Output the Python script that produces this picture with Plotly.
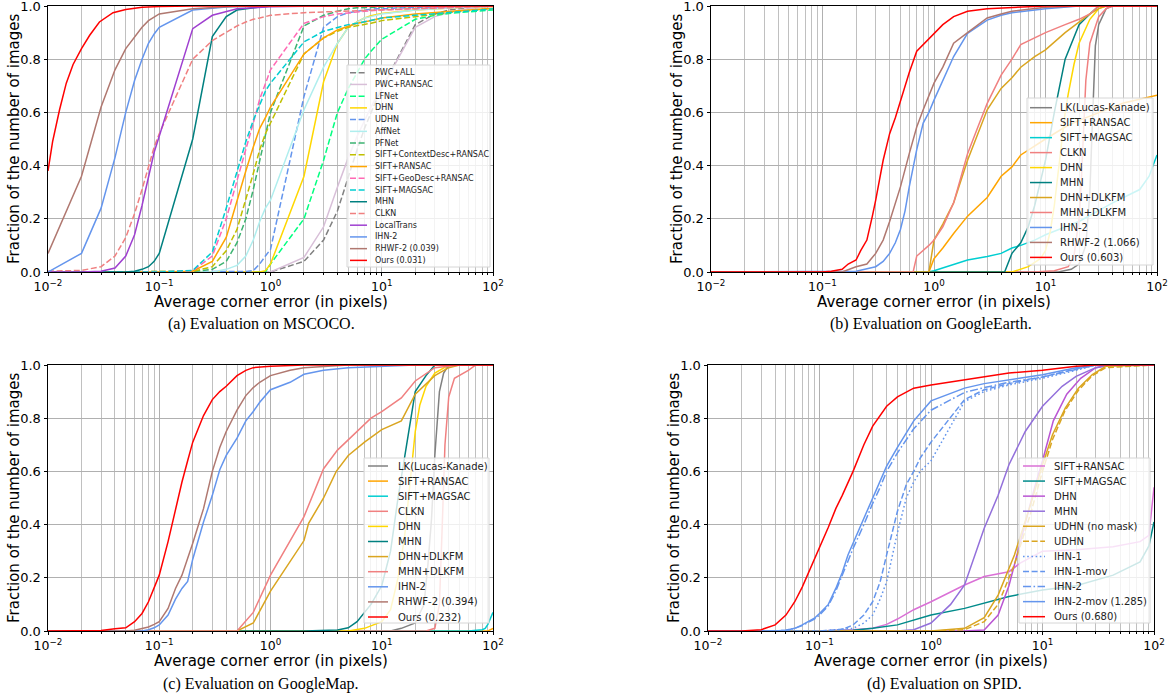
import plotly.graph_objects as go

# ---------------- DATA ----------------
# Panel (a) MSCOCO: common threshold grid
A_X = [0.01, 0.02, 0.03, 0.04, 0.05, 0.06, 0.07, 0.08, 0.09,
       0.1, 0.2, 0.3, 0.4, 0.5, 0.6, 0.7, 0.8, 0.9,
       1, 2, 3, 4, 5, 6, 7, 8, 9,
       10, 20, 30, 40, 50, 60, 70, 80, 90,
       100]
a_pwc_all = [0, 0, 0, 0, 0, 0, 0, 0, 0,
             0, 0, 0, 0, 0, 0, 0, 0, 0,
             0, 0.04, 0.12, 0.23, 0.36, 0.46, 0.54, 0.6, 0.65,
             0.69, 0.93, 0.97, 0.985, 0.99, 0.993, 0.996, 0.998, 0.999,
             1]
a_pwc_ransac = [0, 0, 0, 0, 0, 0, 0, 0, 0,
                0, 0, 0, 0, 0, 0, 0, 0, 0,
                0, 0.055, 0.17, 0.32, 0.43, 0.51, 0.57, 0.62, 0.66,
                0.69, 0.92, 0.96, 0.975, 0.985, 0.99, 0.993, 0.996, 0.998,
                1]
a_lfnet = [0, 0, 0, 0, 0, 0, 0, 0, 0,
           0, 0, 0, 0, 0, 0, 0, 0, 0,
           0.03, 0.2, 0.42, 0.6, 0.69, 0.75, 0.8, 0.83, 0.855,
           0.875, 0.95, 0.965, 0.972, 0.976, 0.978, 0.98, 0.982, 0.984,
           0.985]
a_dhn = [0, 0, 0, 0, 0, 0, 0, 0, 0,
         0, 0, 0, 0, 0, 0, 0, 0, 0.005,
         0.03, 0.36, 0.715, 0.86, 0.92, 0.94, 0.955, 0.963, 0.968,
         0.972, 0.985, 0.99, 0.993, 0.995, 0.996, 0.997, 0.998, 0.999,
         1]
a_udhn = [0, 0, 0, 0, 0, 0, 0, 0, 0,
          0, 0, 0, 0, 0, 0.002, 0.005, 0.03, 0.06,
          0.085, 0.66, 0.92, 0.96, 0.975, 0.98, 0.985, 0.988, 0.99,
          0.99, 0.995, 0.997, 0.998, 0.999, 1, 1, 1, 1,
          1]
a_affnet = [0, 0, 0, 0, 0, 0, 0, 0, 0,
            0, 0, 0, 0.01, 0.025, 0.06, 0.12, 0.19, 0.24,
            0.27, 0.61, 0.77, 0.86, 0.92, 0.94, 0.955, 0.96, 0.965,
            0.97, 0.985, 0.99, 0.993, 0.995, 0.996, 0.997, 0.998, 0.999,
            1]
a_pfnet = [0, 0, 0, 0, 0, 0, 0, 0, 0,
           0, 0.002, 0.01, 0.04, 0.11, 0.2, 0.31, 0.42, 0.52,
           0.6, 0.925, 0.965, 0.98, 0.99, 0.993, 0.994, 0.995, 0.996,
           0.996, 0.998, 0.999, 1, 1, 1, 1, 1, 1,
           1]
a_context = [0, 0, 0, 0, 0, 0, 0, 0, 0,
             0, 0.002, 0.02, 0.08, 0.16, 0.27, 0.37, 0.46, 0.52,
             0.56, 0.82, 0.88, 0.905, 0.92, 0.925, 0.93, 0.935, 0.94,
             0.945, 0.96, 0.97, 0.975, 0.98, 0.983, 0.985, 0.987, 0.989,
             0.99]
a_sift_ransac = [0, 0, 0, 0, 0, 0, 0, 0, 0,
                 0, 0.003, 0.04, 0.13, 0.27, 0.38, 0.47, 0.54, 0.58,
                 0.62, 0.82, 0.88, 0.91, 0.925, 0.935, 0.94, 0.945, 0.95,
                 0.955, 0.97, 0.975, 0.98, 0.983, 0.985, 0.987, 0.989, 0.99,
                 0.992]
a_geodesc = [0, 0, 0, 0, 0, 0, 0, 0, 0,
             0, 0.005, 0.06, 0.2, 0.34, 0.46, 0.56, 0.65, 0.71,
             0.76, 0.935, 0.96, 0.97, 0.975, 0.978, 0.98, 0.982, 0.984,
             0.985, 0.99, 0.993, 0.995, 0.996, 0.997, 0.998, 0.999, 0.999,
             1]
a_magsac = [0, 0, 0, 0, 0, 0, 0, 0, 0,
            0, 0.006, 0.075, 0.24, 0.38, 0.49, 0.57, 0.63, 0.68,
            0.71, 0.865, 0.905, 0.92, 0.93, 0.935, 0.94, 0.945, 0.95,
            0.955, 0.965, 0.97, 0.975, 0.978, 0.98, 0.982, 0.985, 0.987,
            0.99]
a_mhn = [0, 0, 0, 0, 0, 0.003, 0.01, 0.02, 0.04,
         0.07, 0.5, 0.885, 0.96, 0.985, 0.99, 0.994, 0.996, 0.998,
         1, 1, 1, 1, 1, 1, 1, 1, 1,
         1, 1, 1, 1, 1, 1, 1, 1, 1,
         1]
a_clkn = [0.003, 0.006, 0.02, 0.06, 0.13, 0.22, 0.31, 0.4, 0.47,
          0.52, 0.8, 0.87, 0.9, 0.925, 0.94, 0.95, 0.955, 0.96,
          0.965, 0.975, 0.978, 0.98, 0.982, 0.983, 0.984, 0.985, 0.985,
          0.986, 0.99, 0.992, 0.994, 0.995, 0.996, 0.997, 0.998, 0.999,
          1]
a_localtrans = [0, 0, 0.003, 0.015, 0.06, 0.14, 0.25, 0.36, 0.45,
                0.51, 0.915, 0.965, 0.98, 0.99, 0.992, 0.994, 0.995, 0.996,
                0.997, 0.999, 0.999, 1, 1, 1, 1, 1, 1,
                1, 1, 1, 1, 1, 1, 1, 1, 1,
                1]
a_ihn2 = [0, 0.07, 0.24, 0.43, 0.6, 0.72, 0.8, 0.86, 0.895,
          0.92, 0.985, 0.993, 0.996, 0.998, 0.999, 1, 1, 1,
          1, 1, 1, 1, 1, 1, 1, 1, 1,
          1, 1, 1, 1, 1, 1, 1, 1, 1,
          1]
a_rhwf2 = [0.07, 0.36, 0.62, 0.76, 0.84, 0.885, 0.92, 0.945, 0.96,
           0.97, 0.99, 0.995, 0.997, 0.998, 0.999, 1, 1, 1,
           1, 1, 1, 1, 1, 1, 1, 1, 1,
           1, 1, 1, 1, 1, 1, 1, 1, 1,
           1]
a_ours_x = [0.01, 0.011, 0.0127, 0.0146, 0.0168, 0.02, 0.0237, 0.029, 0.0384, 0.05, 0.07, 0.1, 0.2, 1, 100]
a_ours_y = [0.38, 0.49, 0.61, 0.71, 0.78, 0.84, 0.89, 0.94, 0.975, 0.987, 0.995, 0.998, 1, 1, 1]

# Panel (b) GoogleEarth
b_lk_x = [0.01, 13, 17, 20, 23, 25, 26, 27, 28, 30, 35, 40, 100]
b_lk_y = [0, 0, 0.01, 0.03, 0.1, 0.3, 0.5, 0.7, 0.85, 0.93, 0.99, 1, 1]
b_sift_ransac_x = [0.01, 0.9, 1.0, 1.2, 1.5, 2, 3, 4, 5, 6, 10, 15, 20, 50, 100]
b_sift_ransac_y = [0, 0, 0.05, 0.09, 0.145, 0.21, 0.28, 0.36, 0.395, 0.44, 0.5, 0.545, 0.57, 0.635, 0.665]
b_magsac_x = [0.01, 0.9, 1.0, 2, 3, 4, 5, 6, 8, 10, 20, 40, 70, 85, 100]
b_magsac_y = [0, 0, 0.005, 0.045, 0.058, 0.07, 0.09, 0.1, 0.12, 0.14, 0.19, 0.26, 0.31, 0.36, 0.44]
b_clkn_x = [0.01, 8, 12, 16, 18, 20, 21, 22, 23, 25, 30, 35, 40, 100]
b_clkn_y = [0, 0, 0.005, 0.02, 0.06, 0.2, 0.35, 0.55, 0.72, 0.86, 0.96, 0.99, 1, 1]
b_dhn_x = [0.01, 5, 7, 9, 10, 11, 12, 13, 14, 15, 16, 18, 20, 25, 30, 35, 100]
b_dhn_y = [0, 0, 0.02, 0.05, 0.08, 0.15, 0.25, 0.38, 0.5, 0.6, 0.67, 0.78, 0.86, 0.95, 0.99, 1, 1]
b_mhn_x = [0.01, 4.3, 5, 6, 7, 8, 10, 12, 15, 20, 25, 30, 100]
b_mhn_y = [0, 0, 0.07, 0.11, 0.17, 0.25, 0.42, 0.6, 0.8, 0.93, 0.97, 1, 1]
b_dhn_dlkfm_x = [0.01, 0.9, 1.0, 1.2, 1.5, 2, 3, 4, 5, 6, 8, 10, 15, 20, 25, 30, 35, 100]
b_dhn_dlkfm_y = [0, 0, 0.12, 0.18, 0.26, 0.42, 0.61, 0.69, 0.73, 0.77, 0.81, 0.835, 0.9, 0.94, 0.97, 0.99, 1, 1]
b_mhn_dlkfm_x = [0.01, 0.65, 0.7, 0.8, 0.9, 1.0, 1.2, 1.5, 2, 2.5, 3, 4, 5, 6, 8, 10, 15, 20, 25, 30, 100]
b_mhn_dlkfm_y = [0, 0, 0.06, 0.08, 0.1, 0.12, 0.17, 0.26, 0.445, 0.55, 0.634, 0.74, 0.8, 0.855, 0.88, 0.9, 0.93, 0.95, 0.97, 1, 1]
b_ihn2_x = [0.01, 0.2, 0.3, 0.35, 0.4, 0.45, 0.5, 0.55, 0.6, 0.7, 0.8, 0.9, 1.0, 1.2, 1.5, 2, 3, 4, 5, 10, 20, 100]
b_ihn2_y = [0, 0.003, 0.02, 0.04, 0.07, 0.11, 0.16, 0.23, 0.32, 0.46, 0.56, 0.6, 0.646, 0.72, 0.81, 0.897, 0.947, 0.965, 0.975, 0.99, 1, 1]
b_rhwf2_x = [0.01, 0.15, 0.2, 0.25, 0.3, 0.35, 0.4, 0.45, 0.5, 0.6, 0.7, 0.8, 1.0, 1.2, 1.5, 2, 3, 4, 5, 10, 20, 100]
b_rhwf2_y = [0, 0, 0.02, 0.03, 0.07, 0.12, 0.19, 0.26, 0.32, 0.445, 0.545, 0.61, 0.71, 0.77, 0.86, 0.9, 0.955, 0.97, 0.98, 0.995, 1, 1]
b_ours_x = [0.01, 0.1, 0.12, 0.15, 0.17, 0.2, 0.22, 0.25, 0.28, 0.3, 0.35, 0.4, 0.45, 0.5, 0.6, 0.7, 0.8, 1.0, 1.2, 1.5, 2, 3, 5, 10, 100]
b_ours_y = [0, 0, 0.003, 0.01, 0.03, 0.045, 0.08, 0.12, 0.21, 0.27, 0.42, 0.52, 0.58, 0.646, 0.75, 0.83, 0.855, 0.897, 0.93, 0.96, 0.98, 0.99, 0.995, 1, 1]

# Panel (c) GoogleMap
c_lk_x = [0.01, 12, 15, 20, 24, 26, 28, 30, 33, 36, 40, 100]
c_lk_y = [0, 0, 0.01, 0.03, 0.1, 0.25, 0.42, 0.66, 0.9, 0.97, 1, 1]
c_sift_ransac_x = [0.01, 90, 100]
c_sift_ransac_y = [0, 0, 0.01]
c_magsac_x = [0.01, 60, 80, 85, 90, 95, 100]
c_magsac_y = [0, 0, 0.005, 0.01, 0.025, 0.045, 0.07]
c_clkn_x = [0.01, 25, 30, 33, 35, 37, 40, 45, 60, 70, 100]
c_clkn_y = [0, 0, 0.01, 0.1, 0.4, 0.7, 0.88, 0.95, 0.98, 1, 1]
c_dhn_x = [0.01, 5, 7, 8, 10, 12, 14, 16, 18, 20, 22, 25, 30, 40, 100]
c_dhn_y = [0, 0, 0.01, 0.02, 0.035, 0.08, 0.2, 0.35, 0.55, 0.75, 0.85, 0.92, 0.97, 1, 1]
c_mhn_x = [0.01, 2, 4, 5, 6, 7, 8, 10, 12, 14, 16, 18, 20, 25, 30, 100]
c_mhn_y = [0, 0, 0.004, 0.012, 0.035, 0.07, 0.1, 0.17, 0.3, 0.5, 0.65, 0.78, 0.9, 0.96, 1, 1]
c_dhn_dlkfm_x = [0.01, 0.5, 0.7, 1, 2, 2.2, 3, 3.9, 5, 7, 10, 15, 20, 30, 40, 50, 100]
c_dhn_dlkfm_y = [0, 0, 0.03, 0.15, 0.34, 0.405, 0.5, 0.6, 0.66, 0.71, 0.757, 0.79, 0.89, 0.96, 0.99, 1, 1]
c_mhn_dlkfm_x = [0.01, 0.5, 0.7, 1, 2, 3, 4, 6, 8, 10, 15, 20, 30, 50, 100]
c_mhn_dlkfm_y = [0, 0, 0.07, 0.21, 0.43, 0.61, 0.68, 0.75, 0.8, 0.825, 0.876, 0.94, 0.99, 1, 1]
c_ihn2_x = [0.01, 0.07, 0.08, 0.09, 0.1, 0.12, 0.14, 0.16, 0.18, 0.2, 0.25, 0.3, 0.35, 0.4, 0.5, 0.6, 0.7, 0.8, 1, 1.5, 2, 3, 5, 10, 20, 100]
c_ihn2_y = [0, 0, 0.005, 0.012, 0.023, 0.06, 0.12, 0.16, 0.186, 0.27, 0.41, 0.51, 0.606, 0.66, 0.725, 0.79, 0.825, 0.86, 0.907, 0.935, 0.965, 0.98, 0.99, 0.995, 1, 1]
c_rhwf2_x = [0.01, 0.05, 0.06, 0.07, 0.08, 0.09, 0.1, 0.12, 0.14, 0.16, 0.18, 0.2, 0.25, 0.3, 0.35, 0.4, 0.5, 0.6, 0.7, 0.8, 1, 1.5, 2, 3, 5, 100]
c_rhwf2_y = [0, 0, 0.003, 0.008, 0.015, 0.025, 0.035, 0.085, 0.16, 0.21, 0.27, 0.33, 0.46, 0.6, 0.69, 0.75, 0.83, 0.885, 0.915, 0.935, 0.96, 0.98, 0.99, 0.995, 1, 1]
c_ours_x = [0.01, 0.02, 0.03, 0.04, 0.05, 0.06, 0.07, 0.08, 0.09, 0.1, 0.12, 0.14, 0.16, 0.18, 0.2, 0.25, 0.3, 0.35, 0.4, 0.5, 0.6, 0.7, 1, 2, 100]
c_ours_y = [0, 0, 0.002, 0.008, 0.012, 0.035, 0.066, 0.11, 0.16, 0.21, 0.336, 0.46, 0.56, 0.64, 0.71, 0.81, 0.87, 0.9, 0.92, 0.96, 0.98, 0.99, 0.995, 1, 1]

# Panel (d) SPID
d_sift_ransac_x = [0.01, 0.1, 0.2, 0.3, 0.4, 0.5, 0.7, 1, 2, 3, 5, 6.3, 10, 20, 43, 75, 90, 100]
d_sift_ransac_y = [0, 0, 0.005, 0.01, 0.025, 0.045, 0.08, 0.11, 0.173, 0.205, 0.223, 0.255, 0.3, 0.305, 0.317, 0.336, 0.36, 0.54]
d_magsac_x = [0.01, 0.1, 0.2, 0.3, 0.5, 0.7, 1, 2, 3, 5, 10, 20, 43, 75, 90, 100]
d_magsac_y = [0, 0, 0.003, 0.01, 0.023, 0.04, 0.06, 0.085, 0.104, 0.13, 0.154, 0.17, 0.21, 0.26, 0.32, 0.41]
d_dhn_x = [0.01, 2, 3, 4, 5, 6.5, 8.5, 10, 12.5, 16.5, 22, 30, 40, 100]
d_dhn_y = [0, 0, 0.004, 0.06, 0.17, 0.35, 0.54, 0.64, 0.79, 0.89, 0.95, 0.99, 1, 1]
d_mhn_x = [0.01, 0.5, 0.7, 1, 1.5, 2, 3, 4, 5, 7, 10, 15, 20, 30, 40, 100]
d_mhn_y = [0, 0, 0.005, 0.03, 0.1, 0.173, 0.386, 0.51, 0.625, 0.75, 0.845, 0.92, 0.957, 0.99, 1, 1]
d_udhn_nomask_x = [0.01, 1, 2, 3, 4, 5.6, 7.8, 10, 12.3, 16, 21, 28, 37, 100]
d_udhn_nomask_y = [0, 0, 0.01, 0.05, 0.135, 0.286, 0.474, 0.625, 0.738, 0.838, 0.913, 0.964, 0.995, 1]
d_udhn_x = [0.01, 1, 2, 3, 4, 5.6, 7.8, 10, 12.3, 16, 21, 28, 37, 100]
d_udhn_y = [0, 0, 0.005, 0.035, 0.1, 0.25, 0.44, 0.6, 0.72, 0.83, 0.905, 0.96, 0.99, 1]
d_ihn1_x = [0.01, 0.1, 0.2, 0.25, 0.3, 0.35, 0.4, 0.5, 0.6, 0.7, 0.8, 1, 2, 3, 5, 10, 20, 30, 100]
d_ihn1_y = [0, 0, 0.01, 0.03, 0.06, 0.12, 0.185, 0.37, 0.5, 0.56, 0.6, 0.64, 0.863, 0.9, 0.925, 0.95, 0.98, 1, 1]
d_ihn1_mov_x = [0.01, 0.1, 0.15, 0.17, 0.2, 0.25, 0.3, 0.35, 0.4, 0.45, 0.5, 0.6, 0.7, 0.8, 1, 2, 3, 5, 10, 20, 30, 100]
d_ihn1_mov_y = [0, 0, 0.005, 0.01, 0.023, 0.06, 0.11, 0.185, 0.286, 0.37, 0.45, 0.55, 0.6, 0.65, 0.71, 0.87, 0.907, 0.93, 0.955, 0.985, 1, 1]
d_ihn2_x = [0.01, 0.04, 0.05, 0.06, 0.07, 0.08, 0.09, 0.1, 0.12, 0.14, 0.16, 0.18, 0.2, 0.25, 0.3, 0.35, 0.4, 0.5, 0.7, 1, 2, 3, 5, 10, 20, 30, 100]
d_ihn2_y = [0, 0, 0.003, 0.01, 0.02, 0.032, 0.045, 0.06, 0.095, 0.15, 0.21, 0.27, 0.31, 0.4, 0.48, 0.54, 0.6, 0.67, 0.76, 0.83, 0.897, 0.915, 0.935, 0.955, 0.985, 1, 1]
d_ihn2_mov_x = [0.01, 0.04, 0.05, 0.06, 0.07, 0.08, 0.09, 0.1, 0.12, 0.14, 0.16, 0.18, 0.2, 0.25, 0.3, 0.35, 0.4, 0.5, 0.7, 1, 2, 3, 5, 10, 20, 30, 100]
d_ihn2_mov_y = [0, 0, 0.003, 0.01, 0.023, 0.035, 0.048, 0.066, 0.1, 0.16, 0.22, 0.286, 0.33, 0.42, 0.5, 0.56, 0.62, 0.69, 0.79, 0.865, 0.913, 0.93, 0.945, 0.963, 0.99, 1, 1]
d_ours_x = [0.01, 0.02, 0.03, 0.04, 0.05, 0.06, 0.07, 0.08, 0.09, 0.1, 0.12, 0.14, 0.16, 0.2, 0.25, 0.3, 0.35, 0.4, 0.5, 0.7, 1, 2, 3, 5, 10, 20, 30, 100]
d_ours_y = [0, 0, 0.005, 0.023, 0.06, 0.11, 0.165, 0.22, 0.27, 0.31, 0.39, 0.46, 0.51, 0.6, 0.7, 0.77, 0.81, 0.845, 0.88, 0.913, 0.925, 0.945, 0.957, 0.97, 0.98, 0.995, 1, 1]

CAPTIONS = ["(a) Evaluation on MSCOCO.", "(b) Evaluation on GoogleEarth.",
            "(c) Evaluation on GoogleMap.", "(d) Evaluation on SPID."]
X_TITLE = "Average corner error (in pixels)"
Y_TITLE = "Fraction of the number of images"
X_TICKVALS = [0.01, 0.1, 1, 10, 100]
X_TICKTEXT = ["10<sup>\u22122</sup>", "10<sup>\u22121</sup>", "10<sup>0</sup>", "10<sup>1</sup>", "10<sup>2</sup>"]

# ---------------- STYLE ----------------
SOLID, DASH, DOT, DASHDOT = "solid", "6px,2.6px", "1.6px,2.6px", "8px,2.5px,1.6px,2.5px"
GREY, ORANGE, CYAN, CORAL = "#808080", "#FFA500", "#00CED1", "#F08080"
GOLD, TEAL, GOLDENROD, BLUE = "#FFD700", "#008080", "#DAA520", "#6495ED"
BROWN, RED = "#B07870", "#FF0000"

series_a = [
    ("PWC+ALL", A_X, a_pwc_all, GREY, DASH),
    ("PWC+RANSAC", A_X, a_pwc_ransac, "#D8BFD8", SOLID),
    ("LFNet", A_X, a_lfnet, "#00FF7F", DASH),
    ("DHN", A_X, a_dhn, GOLD, SOLID),
    ("UDHN", A_X, a_udhn, BLUE, DASH),
    ("AffNet", A_X, a_affnet, "#AFEEEE", SOLID),
    ("PFNet", A_X, a_pfnet, "#3CB371", DASH),
    ("SIFT+ContextDesc+RANSAC", A_X, a_context, "#BFBF00", DASH),
    ("SIFT+RANSAC", A_X, a_sift_ransac, ORANGE, SOLID),
    ("SIFT+GeoDesc+RANSAC", A_X, a_geodesc, "#FF69B4", DASH),
    ("SIFT+MAGSAC", A_X, a_magsac, CYAN, DASH),
    ("MHN", A_X, a_mhn, TEAL, SOLID),
    ("CLKN", A_X, a_clkn, CORAL, DASH),
    ("LocalTrans", A_X, a_localtrans, "#9F3FD0", SOLID),
    ("IHN-2", A_X, a_ihn2, BLUE, SOLID),
    ("RHWF-2 (0.039)", A_X, a_rhwf2, BROWN, SOLID),
    ("Ours (0.031)", a_ours_x, a_ours_y, RED, SOLID),
]
series_b = [
    ("LK(Lucas-Kanade)", b_lk_x, b_lk_y, GREY, SOLID),
    ("SIFT+RANSAC", b_sift_ransac_x, b_sift_ransac_y, ORANGE, SOLID),
    ("SIFT+MAGSAC", b_magsac_x, b_magsac_y, CYAN, SOLID),
    ("CLKN", b_clkn_x, b_clkn_y, CORAL, SOLID),
    ("DHN", b_dhn_x, b_dhn_y, GOLD, SOLID),
    ("MHN", b_mhn_x, b_mhn_y, TEAL, SOLID),
    ("DHN+DLKFM", b_dhn_dlkfm_x, b_dhn_dlkfm_y, GOLDENROD, SOLID),
    ("MHN+DLKFM", b_mhn_dlkfm_x, b_mhn_dlkfm_y, CORAL, SOLID),
    ("IHN-2", b_ihn2_x, b_ihn2_y, BLUE, SOLID),
    ("RHWF-2 (1.066)", b_rhwf2_x, b_rhwf2_y, BROWN, SOLID),
    ("Ours (0.603)", b_ours_x, b_ours_y, RED, SOLID),
]
series_c = [
    ("LK(Lucas-Kanade)", c_lk_x, c_lk_y, GREY, SOLID),
    ("SIFT+RANSAC", c_sift_ransac_x, c_sift_ransac_y, ORANGE, SOLID),
    ("SIFT+MAGSAC", c_magsac_x, c_magsac_y, CYAN, SOLID),
    ("CLKN", c_clkn_x, c_clkn_y, CORAL, SOLID),
    ("DHN", c_dhn_x, c_dhn_y, GOLD, SOLID),
    ("MHN", c_mhn_x, c_mhn_y, TEAL, SOLID),
    ("DHN+DLKFM", c_dhn_dlkfm_x, c_dhn_dlkfm_y, GOLDENROD, SOLID),
    ("MHN+DLKFM", c_mhn_dlkfm_x, c_mhn_dlkfm_y, CORAL, SOLID),
    ("IHN-2", c_ihn2_x, c_ihn2_y, BLUE, SOLID),
    ("RHWF-2 (0.394)", c_rhwf2_x, c_rhwf2_y, BROWN, SOLID),
    ("Ours (0.232)", c_ours_x, c_ours_y, RED, SOLID),
]
series_d = [
    ("SIFT+RANSAC", d_sift_ransac_x, d_sift_ransac_y, "#DA70D6", SOLID),
    ("SIFT+MAGSAC", d_magsac_x, d_magsac_y, "#008B8B", SOLID),
    ("DHN", d_dhn_x, d_dhn_y, "#BA55D3", SOLID),
    ("MHN", d_mhn_x, d_mhn_y, "#9370DB", SOLID),
    ("UDHN (no mask)", d_udhn_nomask_x, d_udhn_nomask_y, GOLDENROD, SOLID),
    ("UDHN", d_udhn_x, d_udhn_y, GOLDENROD, DASH),
    ("IHN-1", d_ihn1_x, d_ihn1_y, BLUE, DOT),
    ("IHN-1-mov", d_ihn1_mov_x, d_ihn1_mov_y, BLUE, DASH),
    ("IHN-2", d_ihn2_x, d_ihn2_y, BLUE, DASHDOT),
    ("IHN-2-mov (1.285)", d_ihn2_mov_x, d_ihn2_mov_y, BLUE, SOLID),
    ("Ours (0.680)", d_ours_x, d_ours_y, RED, SOLID),
]

W, H = 1170, 698
def fx(px):
    return px / W
def fy(py):
    return 1 - py / H

# pixel boxes of each plot area: (left, right, top, bottom)
PANELS = [
    dict(box=(48, 493, 6, 272), series=series_a,
         leg=dict(box=(347, 490, 65, 267), y0=72.7, dy=11.73, lx0=350, lx1=367, tx=373, fs=8)),
    dict(box=(711, 1157, 6, 272), series=series_b,
         leg=dict(box=(1027, 1153, 98, 265), y0=107.7, dy=14.97, lx0=1030, lx1=1052, tx=1058, fs=10)),
    dict(box=(48, 493, 365, 631), series=series_c,
         leg=dict(box=(364, 489, 458, 623), y0=466, dy=15.1, lx0=368, lx1=388, tx=396, fs=10)),
    dict(box=(708, 1154, 365, 631), series=series_d,
         leg=dict(box=(1019, 1150, 458, 623), y0=466, dy=15.07, lx0=1023, lx1=1045, tx=1052, fs=10)),
]
CAPTION_POS = [(261, 324), (931, 324), (261, 684), (944, 684)]

FONT = "DejaVu Sans"
fig = go.Figure()
minor_vals = [m * 10 ** e for e in (-2, -1, 0, 1) for m in range(2, 10)]

for i, p in enumerate(PANELS):
    k = "" if i == 0 else str(i + 1)
    l, r, t, b = p["box"]
    for name, xs, ys, color, dash in p["series"]:
        fig.add_trace(go.Scatter(x=xs, y=ys, mode="lines", name=name, showlegend=False,
                                 line=dict(color=color, width=1.5, dash=dash),
                                 xaxis="x" + k, yaxis="y" + k))
    fig.layout["xaxis" + k] = dict(
        type="log", range=[-2, 2], domain=[fx(l), fx(r)], anchor="y" + k, automargin=False,
        tickmode="array", tickvals=X_TICKVALS, ticktext=X_TICKTEXT,
        ticks="outside", ticklen=3, tickcolor="black", ticklabeloverflow="allow",
        showgrid=True, gridcolor="#b0b0b0", gridwidth=1,
        minor=dict(tickmode="array", tickvals=minor_vals, ticks="outside", ticklen=2,
                   tickcolor="black", showgrid=True, gridcolor="#c0c0c0", gridwidth=1),
        showline=True, linecolor="black", linewidth=1, mirror=True,
        tickfont=dict(family=FONT, size=12.5, color="black"), zeroline=False)
    fig.layout["yaxis" + k] = dict(
        range=[0, 1], domain=[fy(b), fy(t)], anchor="x" + k, automargin=False,
        tickmode="array", tickvals=[0, 0.2, 0.4, 0.6, 0.8, 1.0],
        ticktext=["0.0", "0.2", "0.4", "0.6", "0.8", "1.0"],
        ticks="outside", ticklen=3.5, tickcolor="black", ticklabeloverflow="allow",
        showgrid=True, gridcolor="#b0b0b0", gridwidth=1,
        showline=True, linecolor="black", linewidth=1, mirror=True,
        tickfont=dict(family=FONT, size=13, color="black"), zeroline=False)
    # axis titles
    fig.add_annotation(x=fx((l + r) / 2), y=fy(b + 29.5), xref="paper", yref="paper",
                       text=X_TITLE, showarrow=False, xanchor="center", yanchor="middle",
                       font=dict(family=FONT, size=15, color="black"))
    fig.add_annotation(x=fx(l - 34), y=fy((t + b) / 2), xref="paper", yref="paper",
                       text=Y_TITLE, showarrow=False, textangle=-90,
                       xanchor="center", yanchor="middle",
                       font=dict(family=FONT, size=15, color="black"))
    # legend
    lg = p["leg"]
    bl, br, bt, bb = lg["box"]
    fig.add_shape(type="rect", xref="paper", yref="paper",
                  x0=fx(bl), x1=fx(br), y0=fy(bb), y1=fy(bt),
                  fillcolor="rgba(255,255,255,0.8)", line=dict(color="#d6d6d6", width=1))
    for j, (name, xs, ys, color, dash) in enumerate(p["series"]):
        yy = lg["y0"] + j * lg["dy"]
        fig.add_shape(type="line", xref="paper", yref="paper",
                      x0=fx(lg["lx0"]), x1=fx(lg["lx1"]), y0=fy(yy), y1=fy(yy),
                      line=dict(color=color, width=1.5, dash=dash))
        fig.add_annotation(x=fx(lg["tx"]), y=fy(yy), xref="paper", yref="paper",
                           text=name, showarrow=False, xanchor="left", yanchor="middle",
                           font=dict(family=FONT, size=lg["fs"], color="#222222"))
    cx, cy = CAPTION_POS[i]
    fig.add_annotation(x=fx(cx), y=fy(cy), xref="paper", yref="paper",
                       text=CAPTIONS[i], showarrow=False, xanchor="center", yanchor="middle",
                       font=dict(family="Liberation Serif", size=16, color="black"))

fig.update_layout(width=W, height=H, autosize=False,
                  margin=dict(l=0, r=0, t=0, b=0),
                  paper_bgcolor="white", plot_bgcolor="white")
fig.write_html("out.html", config={"displayModeBar": False},
               post_script="document.body.style.margin='0';document.body.style.padding='0';")
